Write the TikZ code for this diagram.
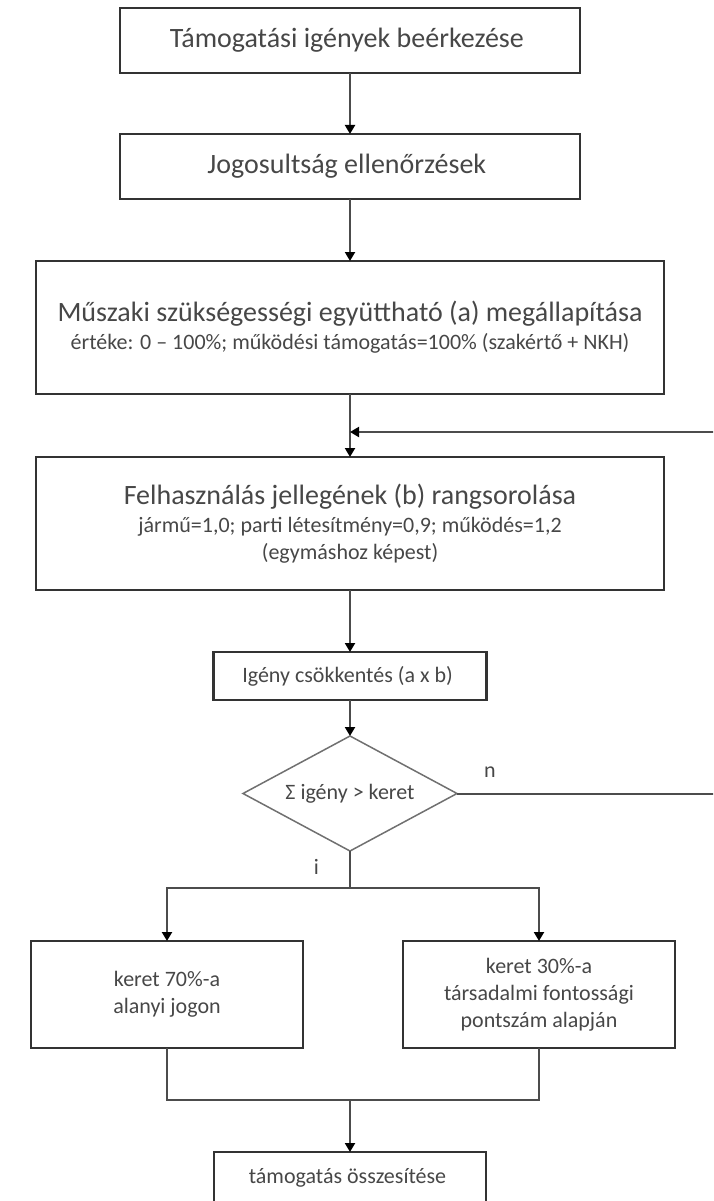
\documentclass[tikz,border=0pt]{standalone}
\usepackage{fontspec}
\setmainfont{Carlito}
\usepackage{tikz}
\usetikzlibrary{positioning}
\usetikzlibrary{arrows.meta}
\usetikzlibrary{shapes}
\definecolor{grey(frame)}{rgb}{0.2, 0.2, 0.2}
\definecolor{grey(line)}{rgb}{0.3, 0.3, 0.3}
\definecolor{grey(text)}{rgb}{0.28, 0.28, 0.28}
\newcommand{\bigtext}{\fontsize{28}{33}\selectfont}
\newcommand{\smalltext}{\fontsize{22}{27}\selectfont}
\tikzset {
        boxnode/.style={align=center,inner sep=0pt, outer sep=0pt, rectangle, draw=grey(frame), line width=2.5pt, text=grey(text), font=\smalltext},
        topnode/.style={boxnode, font=\bigtext, minimum width=460pt, minimum height=65pt},
        widenode/.style={boxnode, minimum width=628pt, minimum height=133pt},
        smallnode/.style={boxnode, minimum width=273pt, minimum height=48pt},
        halfnode/.style={boxnode, minimum width=272pt, minimum height=107pt},
        checknode/.style={diamond, aspect=1.9, inner sep=0pt, outer sep=0pt, draw=grey(line)!80, line width=1.5pt, text=grey(text), font=\smalltext, minimum width=214pt, minimum height=115pt},
        flow/.style={draw=grey(line), line width=2pt, -{Triangle[width=10pt,length=9pt,color=black]}},
        plain/.style={draw=grey(line), line width=2pt},
        lbl/.style={text=grey(text), font=\smalltext, inner sep=0pt}
}

\begin{document}
\begin{tikzpicture}
            \useasboundingbox (0,0) rectangle (713pt,-1201pt);
            \clip (0,0) rectangle (713pt,-1201pt);
            \node[topnode] (claims) at (350pt,-40.5pt) {
                Támogatási igények beérkezése
            };
            \node[topnode, below=61pt of claims] (eligibility) {
                Jogosultság ellenőrzések
            };
            \node[widenode, below=62pt of eligibility] (technical) {
                {\bigtext Műszaki szükségességi együttható (a) megállapítása}\\[1pt]
                értéke: 0 -- 100\%; működési támogatás=100\% (szakértő + NKH)
            };
            \node[widenode, below=63pt of technical] (usage) {
                {\bigtext Felhasználás jellegének (b) rangsorolása}\\[1pt]
                jármű=1,0; parti létesítmény=0,9; működés=1,2\\
                (egymáshoz képest)
            };
            \node[smallnode, below=62pt of usage] (reduction) {
                Igény csökkentés (a x b)
            };
            \node[checknode, below=36pt of reduction] (check) {
                Σ igény > keret
            };
            \node[halfnode, below=90pt of check, xshift=-183pt] (basepart) {
                keret 70\%-a\\
                alanyi jogon
            };
            \node[halfnode, below=90pt of check, xshift=189pt] (socialpart) {
                keret 30\%-a\\
                társadalmi fontossági\\
                pontszám alapján
            };
            \node[smallnode, minimum width=272pt, minimum height=52pt, below=104pt of basepart.south -| check.south] (summary) {
                támogatás összesítése
            };
            \node[lbl, above right=16pt and 27pt of check.east] (nlabel) {n};
            \node[lbl, below left=8pt and 31pt of check.south] (ilabel) {i};
            % connectors
            \coordinate[above=25pt of usage.north] (back);
            \coordinate[above=52pt of summary.north] (join);
            \draw[flow] (claims) -- (eligibility);
            \draw[flow] (eligibility) -- (technical);
            \draw[flow] (technical) -- (usage);
            \draw[flow] (usage) -- (reduction);
            \draw[flow] (reduction) -- (check);
            \draw[flow] (check.east) -- ++(300pt,0) |- (back);
            \draw[flow] (check.south) -- ++(0,-37pt) -| (basepart.north);
            \draw[flow] (check.south) -- ++(0,-37pt) -| (socialpart.north);
            \draw[plain] (basepart.south) |- (join) -| (socialpart.south);
            \draw[flow] (join) -- (summary);
        \end{tikzpicture}
\end{document}
